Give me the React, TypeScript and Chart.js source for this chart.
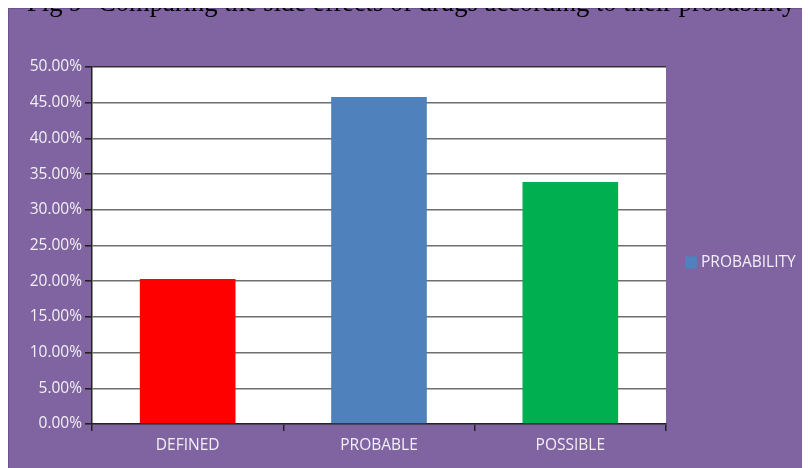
import React, { useEffect, useRef } from "react";
import { Chart, registerables } from "chart.js";

Chart.register(...registerables);

const categories = ["DEFINED", "PROBABLE", "POSSIBLE"];
const probability = [20.3, 45.8, 33.9];
const barColors = ["#FF0000", "#4F81BD", "#00B050"];
const seriesLabel = "PROBABILITY";
const seriesColor = "#4F81BD";
const titleText =
  "Fig 9- Comparing the side effects of drugs according to their probability";

const PANEL_W = 802;
const PANEL_H = 460;
const FONT = "'Open Sans', 'DejaVu Sans', sans-serif";
const LABEL_COLOR = "#F2F0F6";

// Purple panel behind everything, with a slightly darker edge
const panelBackground = {
  id: "panelBackground",
  beforeDraw(chart: Chart) {
    const { ctx, width, height } = chart;
    ctx.save();
    ctx.fillStyle = "#8064A2";
    ctx.fillRect(0, 0, width, height);
    ctx.strokeStyle = "#6C5290";
    ctx.lineWidth = 1;
    ctx.strokeRect(0.5, 0.5, width + 4, height + 4);
    // white plot area
    const a = chart.chartArea;
    ctx.fillStyle = "#FFFFFF";
    ctx.fillRect(a.left, a.top, a.right - a.left, a.bottom - a.top);
    ctx.restore();
  },
};

// Single-entry legend to the right of the plot
const sideLegend = {
  id: "sideLegend",
  afterDraw(chart: Chart) {
    const { ctx } = chart;
    const ds = chart.data.datasets[0];
    const x = 677;
    const cy = 254.5;
    ctx.save();
    ctx.fillStyle = seriesColor;
    ctx.fillRect(x, cy - 6, 12, 12);
    ctx.fillStyle = LABEL_COLOR;
    ctx.font = `15.5px ${FONT}`;
    ctx.textBaseline = "middle";
    ctx.textAlign = "left";
    ctx.fillText(String(ds.label), x + 16, cy + 0.5);
    ctx.restore();
  },
};

export default function App() {
  const canvasRef = useRef<HTMLCanvasElement | null>(null);

  useEffect(() => {
    if (!canvasRef.current) return;
    const chart = new Chart(canvasRef.current, {
      type: "bar",
      data: {
        labels: categories,
        datasets: [
          {
            label: seriesLabel,
            data: probability,
            backgroundColor: barColors,
            borderWidth: 0,
            categoryPercentage: 1,
            barPercentage: 0.5,
          },
        ],
      },
      options: {
        animation: false,
        responsive: false,
        maintainAspectRatio: false,
        devicePixelRatio: 1,
        layout: { padding: { left: 0, top: 59, right: 144, bottom: 0 } },
        plugins: {
          legend: { display: false },
          tooltip: { enabled: false },
          title: { display: false },
        },
        scales: {
          x: {
            offset: true,
            grid: {
              offset: true,
              drawOnChartArea: false,
              drawTicks: true,
              tickLength: 7,
              tickColor: "#222222",
              lineWidth: 1.5,
            },
            border: { display: true, color: "#222222", width: 1.5 },
            ticks: {
              color: LABEL_COLOR,
              font: { family: FONT, size: 15.5 },
              padding: 5,
              maxRotation: 0,
            },
            afterFit(scale: any) {
              scale.height = 44;
            },
          },
          y: {
            min: 0,
            max: 50,
            grid: {
              color: (c: any) => (c.tick && c.tick.value === 50 ? "#333333" : "#6E6E6E"),
              lineWidth: 1.6,
              drawTicks: true,
              tickLength: 7,
              tickColor: "#222222",
            },
            border: { display: true, color: "#222222", width: 1.5 },
            ticks: {
              stepSize: 5,
              color: LABEL_COLOR,
              font: { family: FONT, size: 15.5 },
              padding: 3,
              callback: (v: any) => `${Number(v).toFixed(2)}%`,
            },
            afterFit(scale: any) {
              scale.width = 84;
            },
          },
        },
      },
      plugins: [panelBackground, sideLegend],
    });
    return () => chart.destroy();
  }, []);

  return (
    <div style={{ position: "relative", width: PANEL_W, height: PANEL_H }}>
      <div
        style={{
          position: "absolute",
          left: 19,
          top: -19,
          whiteSpace: "nowrap",
          fontFamily: "'Liberation Serif', 'Times New Roman', serif",
          fontSize: 26.6,
          lineHeight: "26.6px",
          color: "#000",
        }}
      >
        {titleText}
      </div>
      <canvas
        ref={canvasRef}
        width={PANEL_W}
        height={PANEL_H}
        style={{ display: "block", width: PANEL_W, height: PANEL_H }}
      />
    </div>
  );
}
